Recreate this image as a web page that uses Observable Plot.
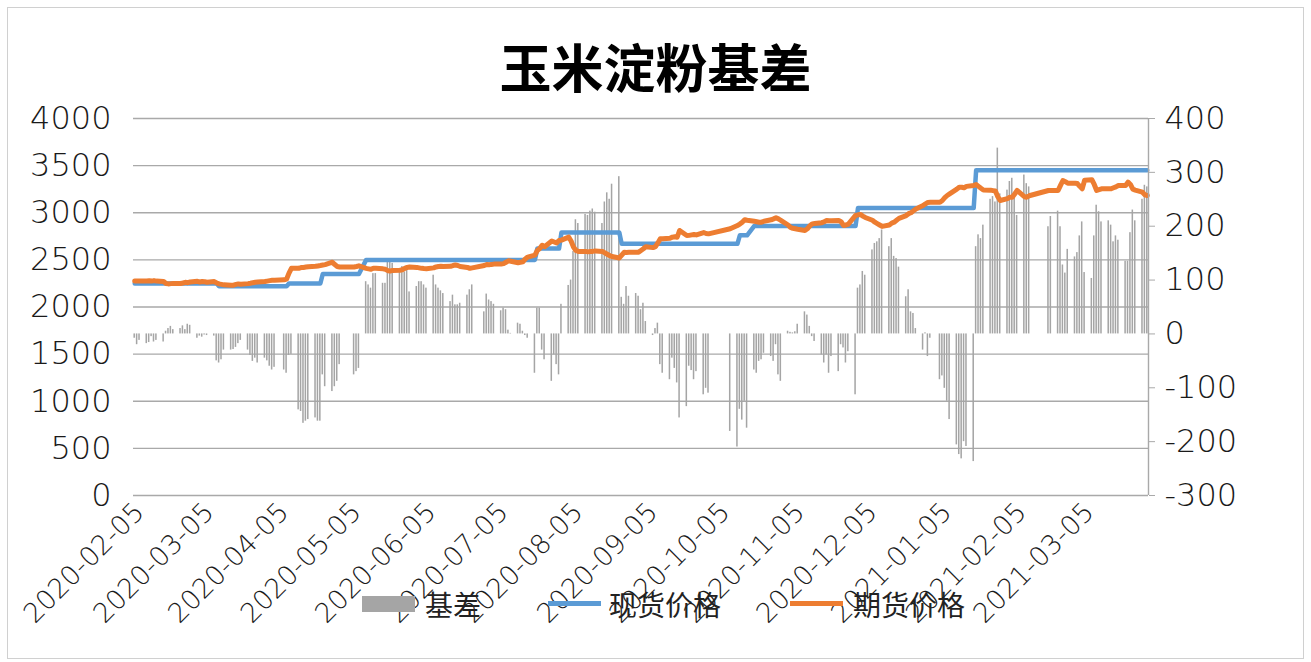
<!DOCTYPE html>
<html><head><meta charset="utf-8">
<script src="https://cdn.jsdelivr.net/npm/d3@7"></script>
<script src="https://cdn.jsdelivr.net/npm/@observablehq/plot@0.6"></script>
<style>
html,body{margin:0;padding:0;background:#fff;}
#wrap{position:relative;width:1311px;height:662px;overflow:hidden;background:#fff;}
#frame{position:absolute;left:7px;top:7px;width:1297px;height:652px;border:1px solid #d0d0d0;box-sizing:border-box;}
#chart{position:absolute;left:0;top:0;}
#title{position:absolute;left:0;width:1311px;top:40px;text-align:center;font:bold 52px "Noto Sans CJK SC";line-height:1;color:#000;}
.leg{position:absolute;font:28px "Noto Sans CJK SC";line-height:1;color:#222;}
.sw{position:absolute;}
#chart svg text{font-weight:200;}
</style></head>
<body><div id="wrap">
<div id="frame"></div>
<div id="chart"></div>
<div id="title">玉米淀粉基差</div>
<div class="sw" style="left:362px;top:596px;width:53px;height:16px;background:#a5a5a5"></div>
<div class="leg" style="left:425px;top:590px">基差</div>
<div class="sw" style="left:548px;top:601px;width:53px;height:5px;background:#5b9bd5"></div>
<div class="leg" style="left:609px;top:590px">现货价格</div>
<div class="sw" style="left:790px;top:601px;width:53px;height:5px;background:#ed7d31"></div>
<div class="leg" style="left:853px;top:590px">期货价格</div>
</div>
<script>
// trading-day basis (right axis), one line per week
const basis = [
 -8,-20,-12,
 -18,-16,-5,-15,-12,
 -15,5,10,14,8,
 10,15,8,18,16,
 -8,-4,-6,-2,-3,
 -4,-50,-54,-48,-30,
 -30,-29,-25,-18,-12,
 -30,-40,-51,-45,-54,
 -45,-50,-60,-67,-62,
 -67,-73,-40,-38,
 -141,-144,-166,-162,-159,
 -156,-162,-162,-76,-98,
 -107,-98,-88,-57,
 -76,-70,-64,
 97,91,85,112,112,
 94,94,140,140,131,
 120,125,115,119,78,
 88,97,97,91,85,
 109,91,85,80,75,
 60,72,54,54,57,
 72,82,91,
 41,74,63,60,55,
 43,48,45,7,1,
 20,18,5,-3,-8,
 -73,48,48,-30,-48,
 -88,-39,-57,-76,55,
 90,100,153,212,205,
 222,220,228,232,226,
 205,245,262,250,278,
 292,68,55,88,70,
 75,70,45,57,23,
 -3,10,20,-57,-73,
 -85,-45,-64,-91,-156,
 -135,-60,-68,-85,-70,
 -113,-101,-110,
 -181,
 -210,-140,-160,-125,-175,
 -67,-73,-51,-48,-36,
 -42,-51,-20,-76,-88,
 5,3,2,4,18,
 41,35,14,-5,-14,
 -39,-54,-39,-73,-42,
 -70,-20,-26,-54,-33,
 -113,85,91,116,109,
 156,168,171,177,193,
 162,177,144,140,124,
 69,82,41,38,10,
 -30,2,-42,-8,
 -85,-78,-101,-125,-159,
 -206,-224,-232,-200,-209,
 -237,162,184,177,202,
 250,255,245,345,260,
 267,283,289,260,220,
 295,279,273,
 199,218,
 228,199,128,113,157,
 143,151,182,208,114,
 103,182,239,227,208,
 210,202,171,182,174,
 135,135,188,230,210,
 250,276,273
];
// futures price (left axis), one line per week
const futures = [
 2275,2275,2275,
 2275,2278,2275,2280,2275,
 2270,2250,2245,2248,2250,
 2250,2255,2262,2258,2265,
 2272,2265,2270,2268,2262,
 2270,2255,2245,2240,2235,
 2230,2232,2240,2245,2242,
 2248,2252,2258,2262,2265,
 2270,2275,2280,2283,2285,
 2288,2295,2360,2410,
 2410,2418,2420,2424,2428,
 2432,2436,2440,2445,2450,
 2475,2450,2430,2425,
 2425,2430,2437,
 2410,2405,2400,2412,2410,
 2405,2400,2385,2382,2388,
 2390,2395,2410,2420,2424,
 2420,2415,2410,2408,2407,
 2415,2425,2430,2432,2430,
 2432,2440,2445,2440,2430,
 2420,2410,2415,
 2440,2450,2448,2452,2455,
 2455,2460,2475,2490,2485,
 2470,2475,2480,2510,2530,
 2550,2600,2620,2655,2640,
 2700,2690,2680,2705,2710,
 2741,2700,2636,2600,2590,
 2590,2585,2588,2590,2595,
 2590,2575,2560,2545,2535,
 2520,2550,2580,2578,2580,
 2580,2582,2600,2618,2640,
 2630,2640,2680,2724,2724,
 2730,2741,2745,2740,2812,
 2758,2760,2765,2770,2765,
 2790,2780,2776,
 2830,
 2865,2880,2900,2926,2920,
 2910,2905,2900,2900,2910,
 2925,2935,2947,2935,2920,
 2870,2845,2835,2830,2825,
 2812,2830,2860,2882,2885,
 2895,2905,2918,2915,2915,
 2918,2905,2865,2870,2880,
 2971,2978,2982,2965,2950,
 2920,2900,2885,2870,2855,
 2870,2890,2900,2920,2940,
 2970,2990,3000,3020,3040,
 3077,3095,3110,3112,
 3112,3130,3160,3183,3200,
 3250,3271,3271,3265,3280,
 3290,3300,3280,3260,3242,
 3240,3235,3230,3170,3130,
 3150,3165,3165,3200,3236,
 3170,3165,3180,
 3236,3236,
 3236,3290,3342,3330,3314,
 3314,3310,3280,3254,3345,
 3350,3300,3236,3245,3254,
 3254,3254,3265,3275,3289,
 3289,3325,3300,3250,3240,
 3218,3190,3183
];
// spot price: step levels and the first trading day of each level
const spotChangeDates = ["2020-02-05","2020-03-11","2020-04-09","2020-04-23","2020-05-11","2020-07-21","2020-07-31","2020-08-25","2020-10-13","2020-10-19","2020-12-01","2021-01-19"];
const spotLevels = [2250,2220,2250,2350,2500,2620,2790,2670,2760,2860,3050,3450];
const holidays = ["2020-04-06","2020-05-01","2020-05-04","2020-05-05","2020-06-25","2020-06-26","2020-10-01","2020-10-02","2020-10-05","2020-10-06","2020-10-07","2020-10-08","2021-01-01","2021-02-11","2021-02-12","2021-02-15","2021-02-16","2021-02-17"];
const firstDay = "2020-02-05", lastDay = "2021-03-31";
const leftTicks = [0,500,1000,1500,2000,2500,3000,3500,4000];
const rightTicks = [-300,-200,-100,0,100,200,300,400];
const dateTicks = ["2020-02-05","2020-03-05","2020-04-05","2020-05-05","2020-06-05","2020-07-05","2020-08-05","2020-09-05","2020-10-05","2020-11-05","2020-12-05","2021-01-05","2021-02-05","2021-03-05"];

const DAY = 864e5;
const toLeft = v => (v + 300) * 4000 / 700;
const fromLeft = y => Math.round(y * 700 / 4000 - 300);

const days = [];
for (let t = +new Date(firstDay); t <= +new Date(lastDay); t += DAY) {
  const d = new Date(t), wd = d.getUTCDay();
  if (wd === 0 || wd === 6) continue;
  if (holidays.includes(d.toISOString().slice(0,10))) continue;
  days.push(d);
}
const changes = spotChangeDates.map(s => +new Date(s));
const spotAt = d => { let k = 0; for (let i = 0; i < changes.length; i++) if (+d >= changes[i]) k = i; return spotLevels[k]; };
const rows = days.map((d, i) => ({date: d, mid: new Date(+d + DAY/2), end: new Date(+d + DAY), basis: basis[i], futures: futures[i], spot: spotAt(d)}));

const xEnd = new Date(+new Date(lastDay) + DAY);
const grid = "#a9a9a9";
const chart = Plot.plot({
  width: 1311, height: 662,
  marginLeft: 133, marginRight: 163, marginTop: 118, marginBottom: 167,
  x: {type: "utc", domain: [new Date(firstDay), xEnd]},
  y: {domain: [0, 4000]},
  style: {fontFamily: "DejaVu Sans", fontSize: "32px", color: "#1a1a1a", background: "transparent", overflow: "visible"},
  marks: [
    Plot.gridY(leftTicks, {stroke: grid, strokeOpacity: 1, strokeWidth: 1.4}),
    Plot.rect(rows, {x1: "date", x2: "end", y1: () => toLeft(0), y2: d => toLeft(d.basis), fill: "#a5a5a5", insetLeft: 0.45, insetRight: 0.45}),
    Plot.line(rows, {x: "mid", y: "spot", stroke: "#5b9bd5", strokeWidth: 4.5}),
    Plot.line(rows, {x: "mid", y: "futures", stroke: "#ed7d31", strokeWidth: 5}),
    Plot.ruleX([xEnd], {y1: () => 0, y2: () => 4000, stroke: grid, strokeWidth: 1.4}),
    Plot.axisY(leftTicks, {anchor: "left", tickSize: 0, tickPadding: 22, tickFormat: d => String(d)}),
    Plot.axisY(rightTicks.map(toLeft), {anchor: "right", tickSize: 6, tickPadding: 10, stroke: grid, tickFormat: fromLeft}),
    Plot.axisX(dateTicks.map(s => new Date(s)), {tickRotate: -45, tickSize: 0, tickPadding: 12, dx: 6, fontSize: 27, tickFormat: d3.utcFormat("%Y-%m-%d")})
  ]
});
document.getElementById("chart").appendChild(chart);
if (days.length !== basis.length || days.length !== futures.length) {
  const e = document.createElement("div");
  e.style.cssText = "position:absolute;left:10px;top:10px;color:red;font:14px sans-serif";
  e.textContent = "length mismatch " + days.length + " " + basis.length + " " + futures.length;
  document.getElementById("wrap").appendChild(e);
}
</script>
</body></html>
